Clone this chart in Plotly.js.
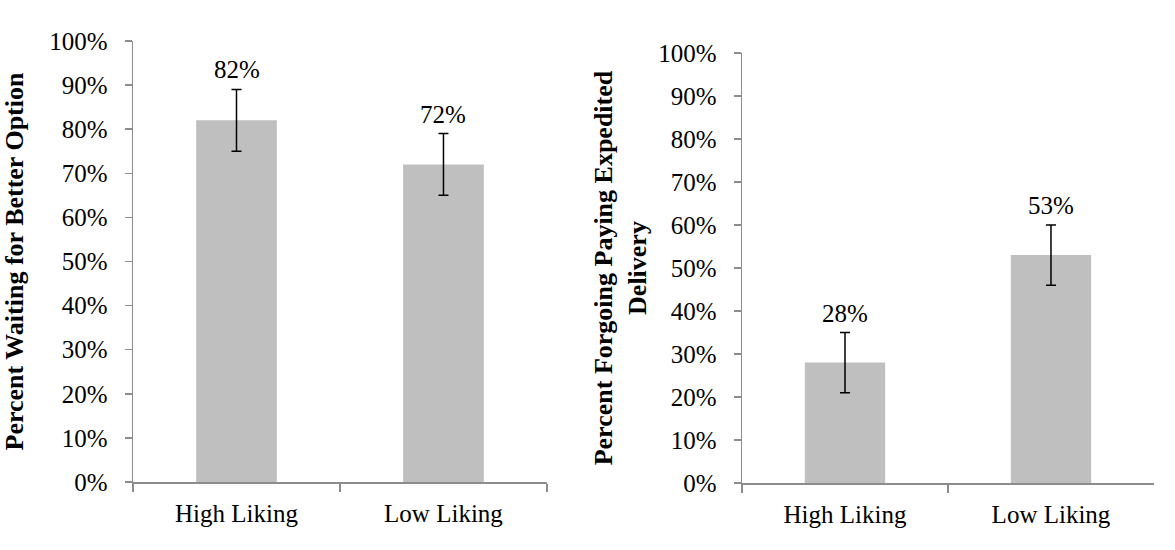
<!DOCTYPE html>
<html>
<head>
<meta charset="utf-8">
<script src="https://cdn.plot.ly/plotly-3.0.1.min.js"></script>
<style>html,body{margin:0;padding:0;background:#fff;}#chart{width:1175px;height:550px;}</style>
</head>
<body>
<div id="chart"></div>
<script>
const categories = ["High Liking", "Low Liking"];
const waitingValues = [82, 72];
const waitingErrors = [7, 7];
const forgoingValues = [28, 53];
const forgoingErrors = [7, 7];
const yTickVals = [0,10,20,30,40,50,60,70,80,90,100];
const yTickText = yTickVals.map(v => v + "%");
const leftTitle = "Percent Waiting for Better Option";
const rightTitle = "Percent Forgoing Paying Expedited<br>Delivery";

const font = "Liberation Serif, Times New Roman, serif";
const barColor = "#bfbfbf";
const axisColor = "#8c8c8c";

function barTrace(vals, errs, xa, ya) {
  return {
    type: "bar", x: categories, y: vals, xaxis: xa, yaxis: ya,
    width: 0.39,
    marker: {color: barColor},
    error_y: {type: "data", array: errs, visible: true, color: "#000", thickness: 1.5, width: 5},
    hoverinfo: "skip", showlegend: false
  };
}

function labels(vals, errs, xa, ya) {
  return categories.map((c, i) => ({
    x: c, y: vals[i] + errs[i], xref: xa, yref: ya,
    text: vals[i] + "%", showarrow: false, yanchor: "bottom", yshift: 4,
    font: {family: font, size: 25, color: "#000"}
  }));
}

function yAxis(domain, title, anchor, standoff) {
  return {
    domain: domain, anchor: anchor, range: [0, 100], tickvals: yTickVals, ticktext: yTickText,
    ticks: "outside", ticklen: 7, tickcolor: axisColor, tickwidth: 1.5,
    showline: true, linecolor: axisColor, linewidth: 1.5, showgrid: false, zeroline: false,
    ticklabelstandoff: 12,
    tickfont: {family: font, size: 25, color: "#000"},
    title: {text: title, font: {family: font, size: 26, color: "#000", weight: "bold"}, standoff: standoff}
  };
}

function xAxis(domain, anchor) {
  return {
    domain: domain, anchor: anchor, type: "category",
    tickson: "boundaries", ticks: "outside", ticklen: 8, tickcolor: axisColor, tickwidth: 1.5,
    showline: true, linecolor: axisColor, linewidth: 1.5, showgrid: false, zeroline: false,
    ticklabelstandoff: 8,
    tickfont: {family: font, size: 25, color: "#000"}
  };
}

const data = [
  barTrace(waitingValues, waitingErrors, "x", "y"),
  barTrace(forgoingValues, forgoingErrors, "x2", "y2")
];

const layout = {
  width: 1175, height: 550,
  margin: {l: 0, r: 0, t: 0, b: 0},
  paper_bgcolor: "#fff", plot_bgcolor: "#fff",
  xaxis: xAxis([0.1132, 0.4655], "y"),
  yaxis: yAxis([0.1236, 0.9255], leftTitle, "x", 24),
  xaxis2: xAxis([0.6315, 0.9821], "y2"),
  yaxis2: yAxis([0.1218, 0.9036], rightTitle, "x2", 4),
  annotations: labels(waitingValues, waitingErrors, "x", "y").concat(labels(forgoingValues, forgoingErrors, "x2", "y2"))
};

Plotly.newPlot("chart", data, layout, {displayModeBar: false, staticPlot: true});
</script>
</body>
</html>
